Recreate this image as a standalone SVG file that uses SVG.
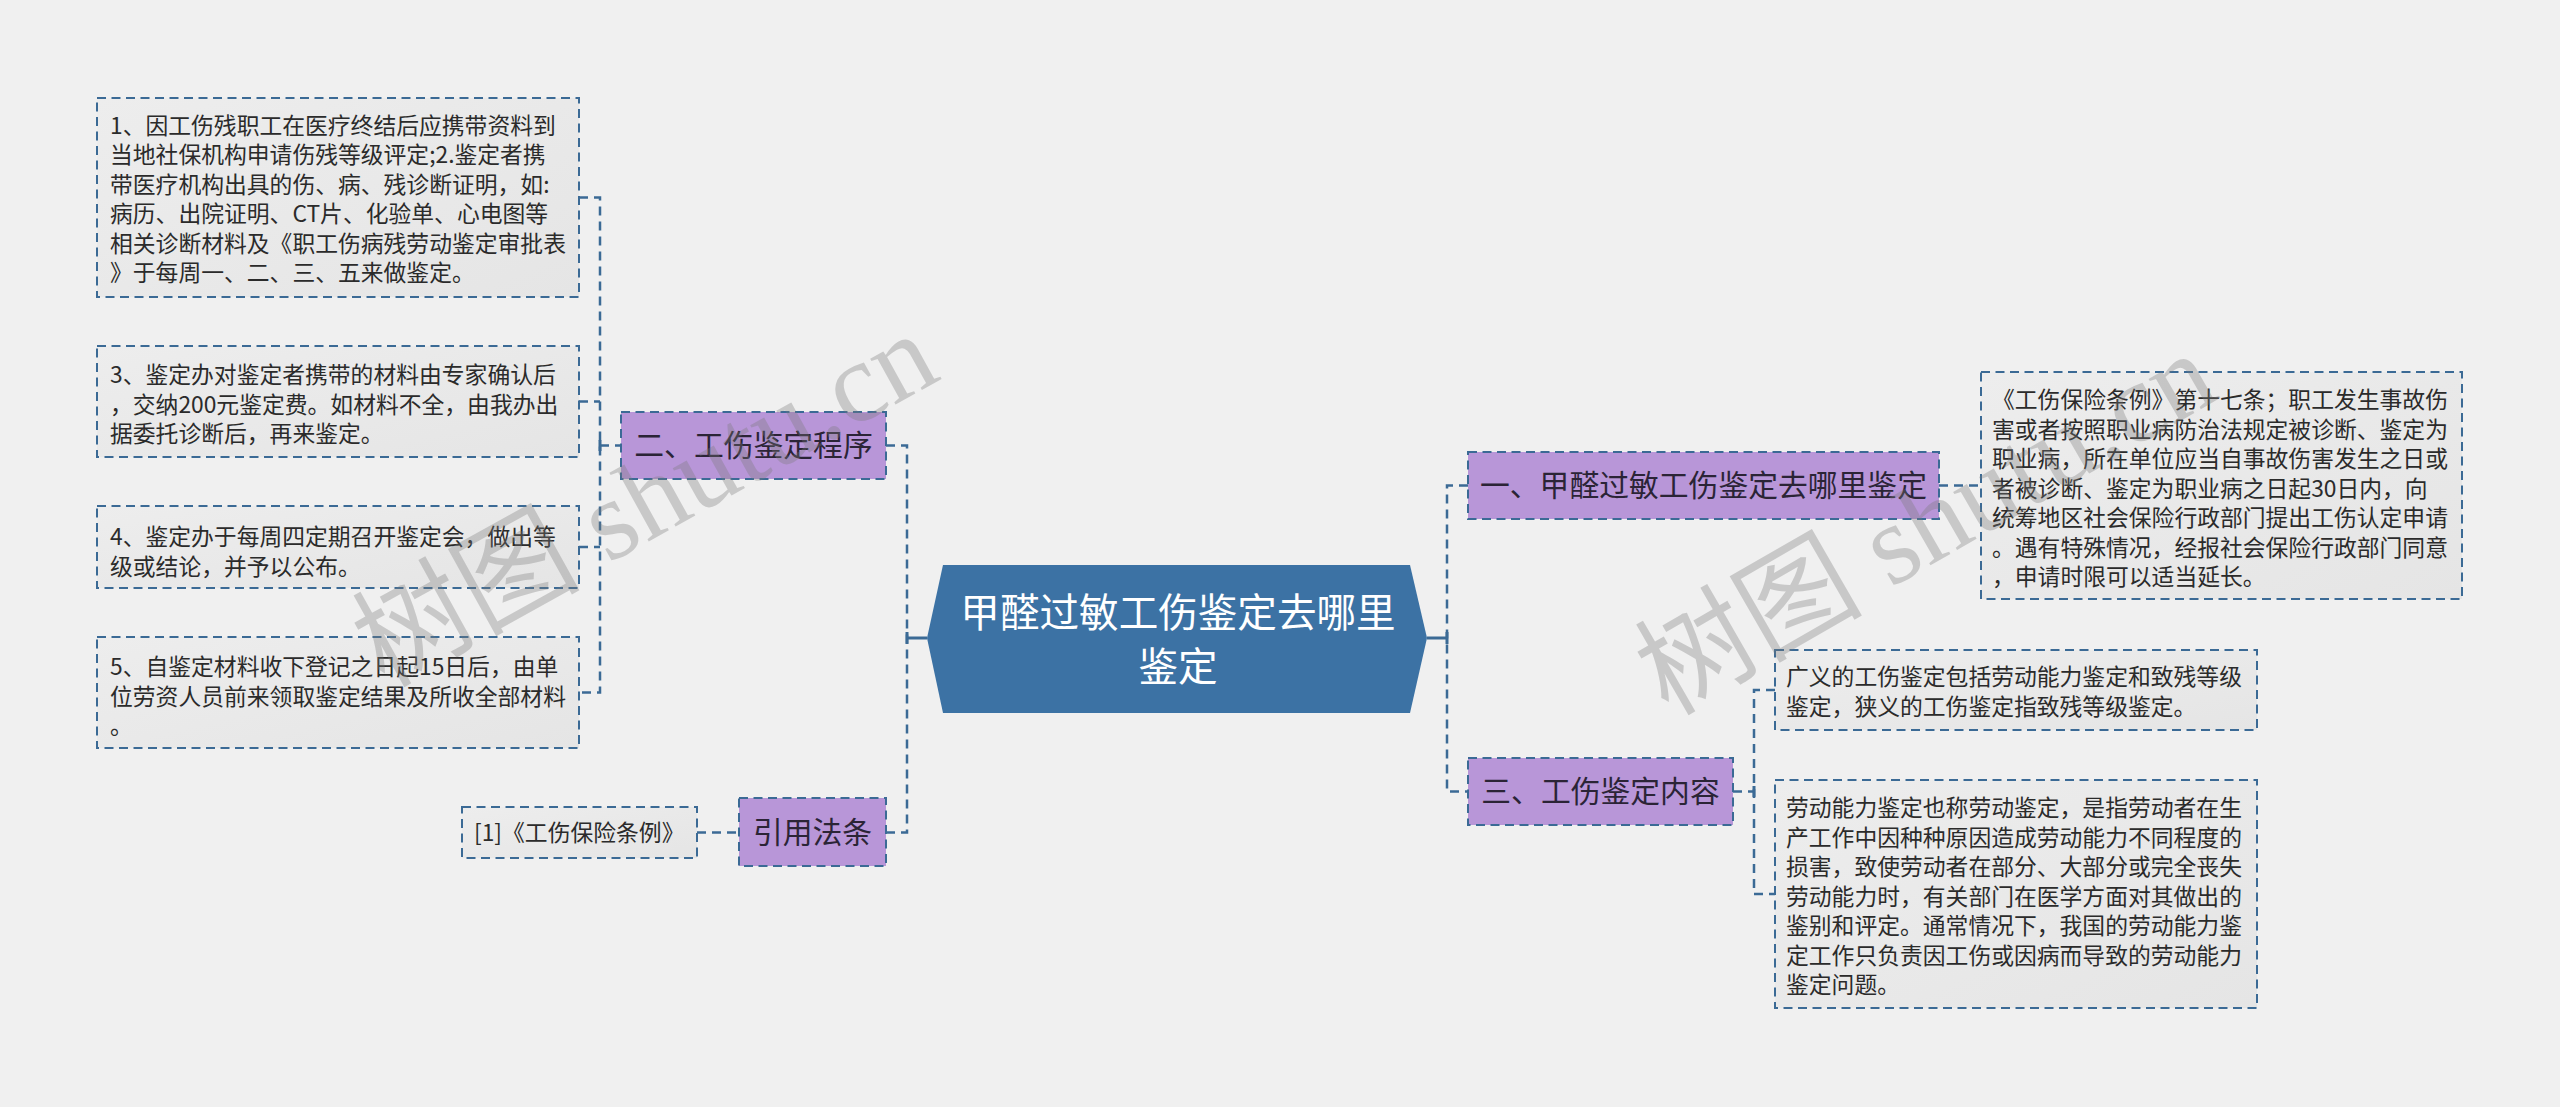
<svg xmlns="http://www.w3.org/2000/svg" width="2560" height="1107" viewBox="0 0 2560 1107">
<defs>
<linearGradient id="leafg" x1="0" y1="0" x2="1" y2="1">
<stop offset="0" stop-color="#ededed"/>
<stop offset="1" stop-color="#e5e5e5"/>
</linearGradient>
<style>
.bg{fill:#f0f0f0}
.leaf{fill:url(#leafg);stroke:#3b6a95;stroke-width:2;stroke-dasharray:9 5.5}
.branch{fill:#b896d8;stroke:#3b6a95;stroke-width:2;stroke-dasharray:9 5.5}
.root{fill:#3c72a4}
.conn{fill:none;stroke:#3b6a95;stroke-width:2.5;stroke-dasharray:9 6}
.solid{fill:none;stroke:#3b6a95;stroke-width:3}
.lt{font-family:"Noto Sans CJK SC","Microsoft YaHei",sans-serif;font-size:22.8px;fill:#2b2b2b}
.bt{font-family:"Noto Sans CJK SC","Microsoft YaHei",sans-serif;font-size:29.8px;fill:#2b2436;text-anchor:middle}
.rt{font-family:"Noto Sans CJK SC","Microsoft YaHei",sans-serif;font-size:39.6px;fill:#ffffff;text-anchor:middle}
.wm{font-family:"Liberation Serif","Noto Sans CJK SC",serif;font-size:114px;fill:#7a7a7a;opacity:0.33;text-anchor:middle}
</style>
</defs>
<rect class="bg" x="0" y="0" width="2560" height="1107"/>

<g id="connectors">
<path class="conn" d="M579,197.5 H600 V692.5 H579"/>
<path class="conn" d="M579,401.5 H600"/>
<path class="conn" d="M579,547 H600"/>
<path class="conn" d="M600,445.5 H621"/>
<path class="solid" d="M600,440 V451"/>
<path class="conn" d="M886,445.5 H907 V832.5 H886"/>
<path class="conn" d="M697,832.5 H739"/>
<path class="solid" d="M907,638 H927 M907,632 V644"/>
<path class="solid" d="M1427,638 H1447 M1447,632 V644"/>
<path class="conn" d="M1468,485.5 H1447 V791.5 H1468"/>
<path class="conn" d="M1939,485.5 H1981"/>
<path class="conn" d="M1733,791.5 H1754"/>
<path class="solid" d="M1754,786 V797"/>
<path class="conn" d="M1775,690 H1754 V894 H1775"/>
</g>

<g id="root">
<polygon class="root" points="927,638 943,565 1410,565 1427,638 1410,713 943,713"/>
<text class="rt" x="1178" y="627">甲醛过敏工伤鉴定去哪里</text>
<text class="rt" x="1178" y="681">鉴定</text>
</g>

<g id="branch-2">
<rect class="branch" x="621" y="412" width="265" height="67"/>
<text class="bt" x="753.5" y="456">二、工伤鉴定程序</text>
</g>
<g id="branch-cite">
<rect class="branch" x="739" y="798" width="147" height="68"/>
<text class="bt" x="812.5" y="843">引用法条</text>
</g>
<g id="branch-1">
<rect class="branch" x="1468" y="452" width="471" height="67"/>
<text class="bt" x="1703.5" y="496">一、甲醛过敏工伤鉴定去哪里鉴定</text>
</g>
<g id="branch-3">
<rect class="branch" x="1468" y="758" width="265" height="67"/>
<text class="bt" x="1600.5" y="802">三、工伤鉴定内容</text>
</g>

<g id="leaf-1">
<rect class="leaf" x="97" y="98" width="482" height="199"/>
<text class="lt" x="110"><tspan x="110" y="134">1、因工伤残职工在医疗终结后应携带资料到</tspan><tspan x="110" y="163.4">当地社保机构申请伤残等级评定;2.鉴定者携</tspan><tspan x="110" y="192.8">带医疗机构出具的伤、病、残诊断证明，如:</tspan><tspan x="110" y="222.2">病历、出院证明、CT片、化验单、心电图等</tspan><tspan x="110" y="251.6">相关诊断材料及《职工伤病残劳动鉴定审批表</tspan><tspan x="110" y="281">》于每周一、二、三、五来做鉴定。</tspan></text>
</g>
<g id="leaf-3">
<rect class="leaf" x="97" y="346" width="482" height="111"/>
<text class="lt"><tspan x="110" y="383">3、鉴定办对鉴定者携带的材料由专家确认后</tspan><tspan x="110" y="412.5">，交纳200元鉴定费。如材料不全，由我办出</tspan><tspan x="110" y="442">据委托诊断后，再来鉴定。</tspan></text>
</g>
<g id="leaf-4">
<rect class="leaf" x="97" y="506" width="482" height="82"/>
<text class="lt"><tspan x="110" y="545">4、鉴定办于每周四定期召开鉴定会，做出等</tspan><tspan x="110" y="574.5">级或结论，并予以公布。</tspan></text>
</g>
<g id="leaf-5">
<rect class="leaf" x="97" y="637" width="482" height="111"/>
<text class="lt"><tspan x="110" y="675">5、自鉴定材料收下登记之日起15日后，由单</tspan><tspan x="110" y="704.5">位劳资人员前来领取鉴定结果及所收全部材料</tspan><tspan x="110" y="734">。</tspan></text>
</g>
<g id="leaf-cite">
<rect class="leaf" x="462" y="807" width="235" height="51"/>
<text class="lt" x="474" y="841">[1]《工伤保险条例》</text>
</g>
<g id="leaf-r1">
<rect class="leaf" x="1981" y="372" width="481" height="227"/>
<text class="lt"><tspan x="1992" y="408">《工伤保险条例》第十七条；职工发生事故伤</tspan><tspan x="1992" y="437.5">害或者按照职业病防治法规定被诊断、鉴定为</tspan><tspan x="1992" y="467">职业病，所在单位应当自事故伤害发生之日或</tspan><tspan x="1992" y="496.5">者被诊断、鉴定为职业病之日起30日内，向</tspan><tspan x="1992" y="526">统筹地区社会保险行政部门提出工伤认定申请</tspan><tspan x="1992" y="555.5">。遇有特殊情况，经报社会保险行政部门同意</tspan><tspan x="1992" y="585">，申请时限可以适当延长。</tspan></text>
</g>
<g id="leaf-r2">
<rect class="leaf" x="1775" y="650" width="482" height="80"/>
<text class="lt"><tspan x="1786" y="685">广义的工伤鉴定包括劳动能力鉴定和致残等级</tspan><tspan x="1786" y="714.5">鉴定，狭义的工伤鉴定指致残等级鉴定。</tspan></text>
</g>
<g id="leaf-r3">
<rect class="leaf" x="1775" y="780" width="482" height="228"/>
<text class="lt"><tspan x="1786" y="816">劳动能力鉴定也称劳动鉴定，是指劳动者在生</tspan><tspan x="1786" y="845.5">产工作中因种种原因造成劳动能力不同程度的</tspan><tspan x="1786" y="875">损害，致使劳动者在部分、大部分或完全丧失</tspan><tspan x="1786" y="904.5">劳动能力时，有关部门在医学方面对其做出的</tspan><tspan x="1786" y="934">鉴别和评定。通常情况下，我国的劳动能力鉴</tspan><tspan x="1786" y="963.5">定工作只负责因工伤或因病而导致的劳动能力</tspan><tspan x="1786" y="993">鉴定问题。</tspan></text>
</g>

<g id="watermarks">
<text class="wm" transform="translate(645,500) rotate(-29)" x="0" y="38">树图 shutu.cn</text>
<text class="wm" transform="translate(1926,524) rotate(-30)" x="0" y="38">树图 shutu.cn</text>
</g>
</svg>
